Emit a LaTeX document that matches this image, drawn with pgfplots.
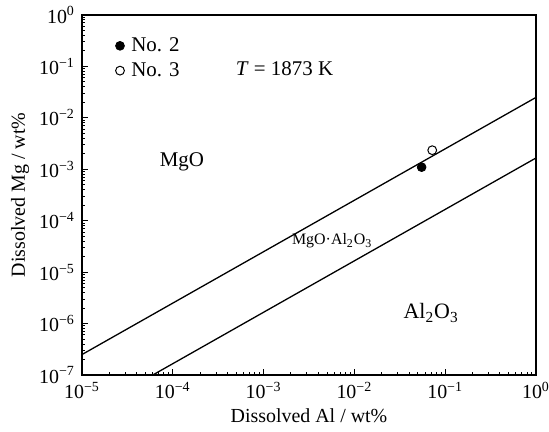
\documentclass[border=0pt]{standalone}
\usepackage{fontspec}
\setmainfont{Liberation Serif}
\usepackage{pgfplots}
\pgfplotsset{compat=1.18}

% log tick label set in the text font: 10 with a text superscript
\newcommand\decade[1]{%
  \pgfmathparse{int(round(#1/ln(10)))}%
  \ifnum\pgfmathresult<0 10\textsuperscript{−\the\numexpr-\pgfmathresult\relax}%
  \else 10\textsuperscript{\pgfmathresult}\fi}

\begin{document}
\begin{tikzpicture}
\begin{axis}[
    xmode=log, ymode=log,
    xmin=1e-5, xmax=1, ymin=1e-7, ymax=1,
    scale only axis, width=227bp, height=180bp,
    axis line style={line width=0.75bp},
    tick align=inside, xtick pos=bottom, ytick pos=left,
    major tick length=3bp, minor tick length=1.6bp,
    every tick/.style={black, line width=0.5bp},
    xticklabel={\decade{\tick}}, yticklabel={\decade{\tick}},
    ticklabel style={font=\fontsize{10}{12}\selectfont},
    label style={font=\fontsize{10.5}{12}\selectfont},
    xlabel={Dissolved Al / wt\%}, ylabel={Dissolved Mg / wt\%},
    every axis x label/.style={at={(0.5,0)}, yshift=-20.5bp, anchor=center},
    every axis y label/.style={at={(0,0.5)}, xshift=-31bp, rotate=90, anchor=center},
    legend style={draw=none, fill=none, at={(0.06,0.961)}, anchor=north west,
                  font=\fontsize{10.5}{13}\selectfont,
                  /tikz/every odd column/.append style={column sep=1.5bp}},
    legend cell align=left,
]
\addplot[black, line width=0.65bp, forget plot] coordinates {(1e-5,2.5e-7) (1,2.5e-2)};
\addplot[black, line width=0.65bp, forget plot] coordinates {(6.02e-5,1e-7) (1,1.66e-3)};
\addplot[only marks, mark=*, mark size=2.2bp, mark options={fill=black, draw=black}] coordinates {(0.055,1.1e-3)};
\addlegendentry{No. 2}
\addplot[only marks, mark=o, mark size=2.2bp, mark options={draw=black, line width=0.5bp}] coordinates {(0.072,2.35e-3)};
\addlegendentry{No. 3}
\node[font=\fontsize{10.5}{12}\selectfont] at (axis cs:1.26e-4,1.38e-3) {MgO};
\node[font=\fontsize{8}{10}\selectfont] at (axis cs:5.7e-3,4.0e-5) {MgO·Al\textsubscript{2}O\textsubscript{3}};
\node[font=\fontsize{11}{12}\selectfont] at (axis cs:0.07,1.6e-6) {Al\textsubscript{2}O\textsubscript{3}};
\node[font=\fontsize{10.5}{12}\selectfont] at (axis cs:1.7e-3,0.089) {\textit{T} = 1873 K};
\end{axis}
\pgfresetboundingbox
\path[use as bounding box] ([shift={(-41bp,-28.5bp)}]current axis.south west)
  rectangle ([shift={(6.5bp,7.5bp)}]current axis.north east);
\end{tikzpicture}
\end{document}
